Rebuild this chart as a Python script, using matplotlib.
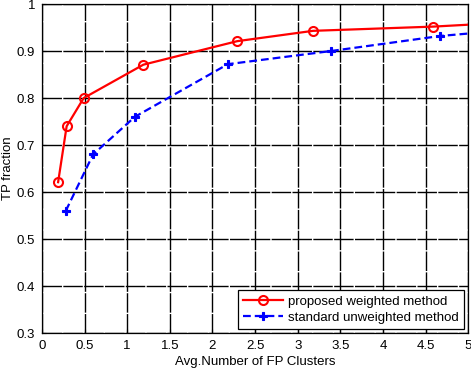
import matplotlib
matplotlib.use("Agg")
import matplotlib.pyplot as plt

# values (last point sits just past the right edge)
x_weighted = [0.19, 0.29, 0.49, 1.19, 2.29, 3.18, 4.59, 5.3]
y_weighted = [0.621, 0.74, 0.80, 0.871, 0.921, 0.943, 0.952, 0.959]
x_unweighted = [0.28, 0.60, 1.09, 2.18, 3.39, 4.67, 5.3]
y_unweighted = [0.56, 0.68, 0.76, 0.872, 0.90, 0.932, 0.942]

xticks = [0, 0.5, 1, 1.5, 2, 2.5, 3, 3.5, 4, 4.5, 5]
yticks = [0.3, 0.4, 0.5, 0.6, 0.7, 0.8, 0.9, 1.0]
ytick_labels = ["0.3", "0.4", "0.5", "0.6", "0.7", "0.8", "0.9", "1"]

plt.rcParams.update({
    "font.family": "Liberation Sans",
    "font.size": 9.5,
})

fig = plt.figure(figsize=(4.71, 3.68), dpi=100)
ax = fig.add_axes([0.089, 0.095, 0.905, 0.894])

ax.plot(x_weighted, y_weighted, color="#ff0000", lw=1.6, marker="o",
        markersize=6.5, markerfacecolor="none", markeredgewidth=1.5,
        label="proposed weighted method", zorder=3)
ax.plot(x_unweighted, y_unweighted, color="#0000ff", lw=1.6, ls=(0, (3.5, 1.8)),
        marker="P", markersize=6, markeredgewidth=0.8,
        label="standard unweighted method", zorder=3)

ax.set_xlim(0, 5)
ax.set_ylim(0.3, 1.0)
ax.set_xticks(xticks)
ax.set_xticklabels([f"{v:g}" for v in xticks])
ax.set_yticks(yticks)
ax.set_yticklabels(ytick_labels)
ax.tick_params(direction="in", length=3, width=0.8, pad=5)

ax.grid(True, color="black", lw=1.0, ls=(0, (14, 1)))
ax.set_axisbelow(True)
for s in ax.spines.values():
    s.set_linewidth(0.9)

ax.set_xlabel("Avg.Number of FP Clusters", labelpad=3)
ax.set_ylabel("TP fraction")
ax.yaxis.set_label_coords(-0.066, 0.5)

leg = ax.legend(loc="lower right", fancybox=False, edgecolor="black",
                framealpha=1, borderaxespad=0.3, handlelength=3.0,
                handletextpad=0.4, labelspacing=0.3)
leg.get_frame().set_linewidth(0.9)

fig.savefig("out.png", dpi=100)
